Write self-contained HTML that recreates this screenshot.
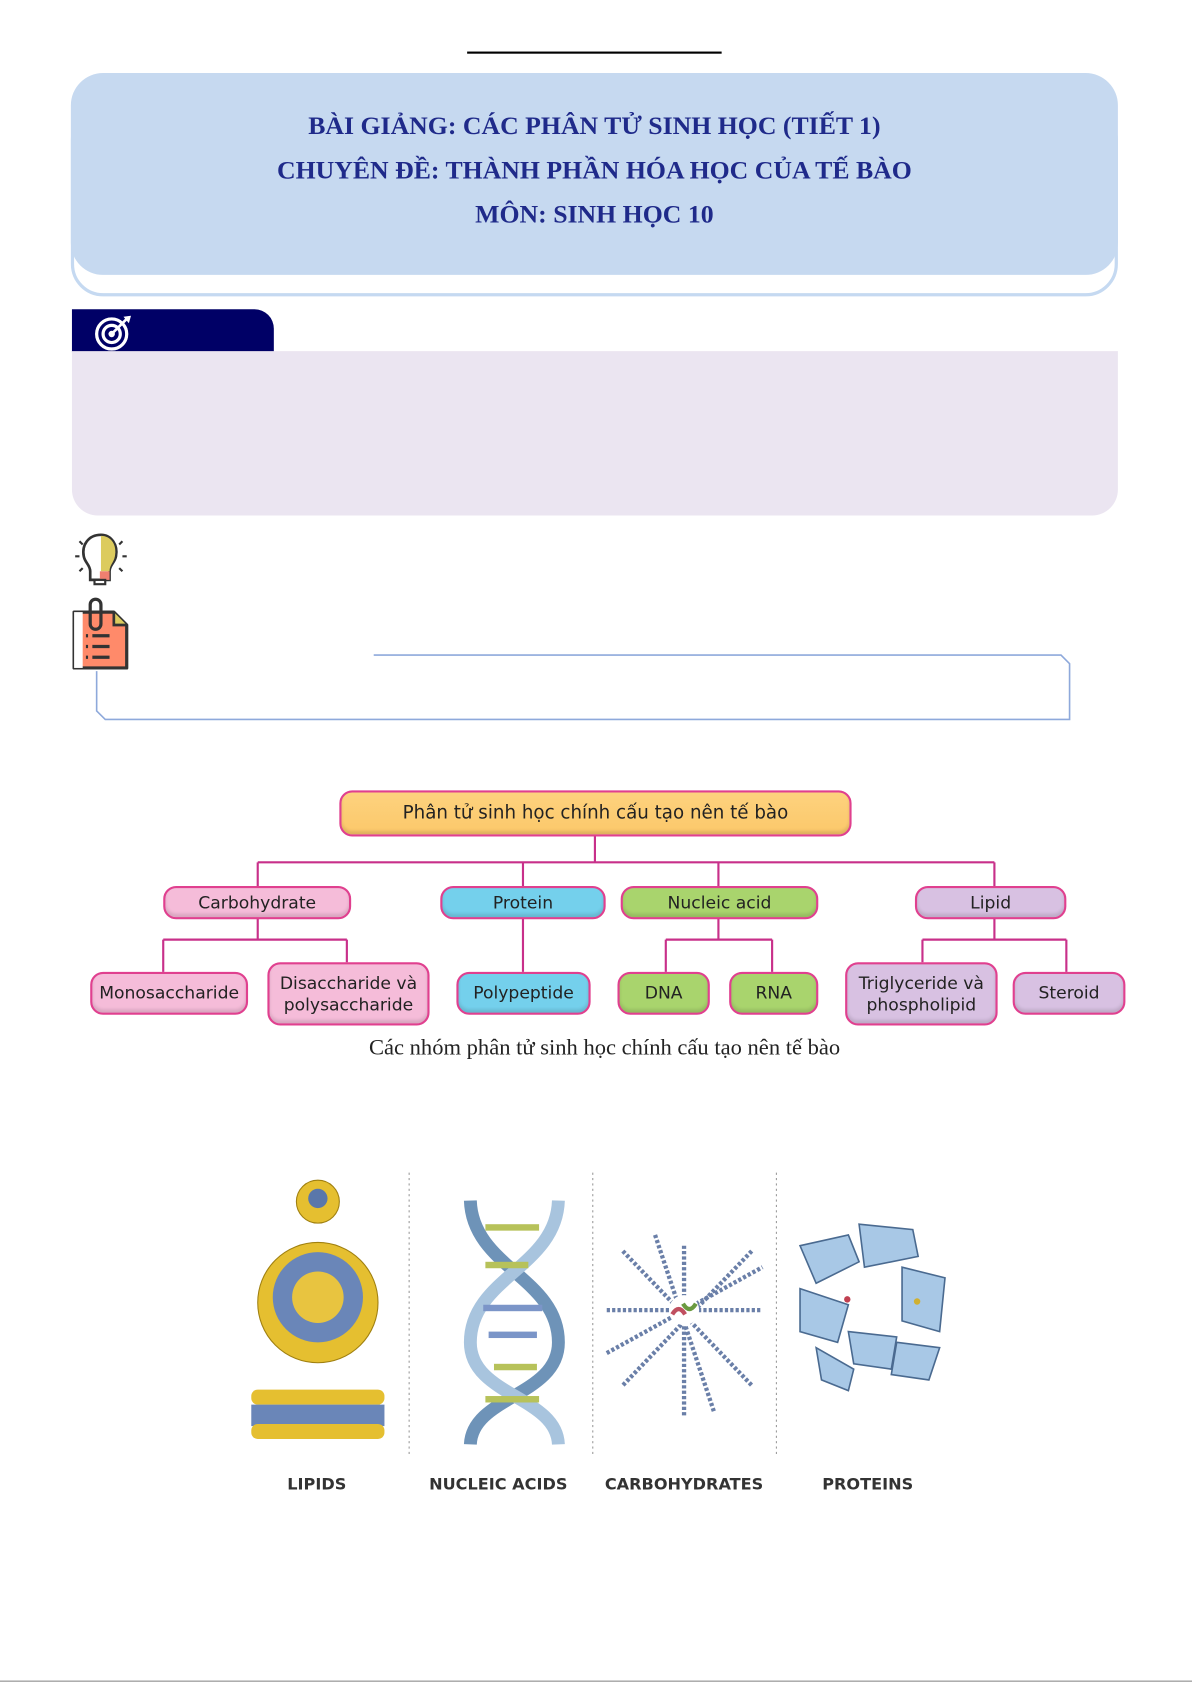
<!DOCTYPE html>
<html><head><meta charset="utf-8">
<style>
*{margin:0;padding:0;box-sizing:border-box}
body{width:1192px;height:1685px;background:#fff;position:relative;overflow:hidden;font-family:"Liberation Serif",serif}
#w{position:absolute;left:0;top:0;width:1110px;height:1569px;transform:scale(1.07387);transform-origin:0 0}
.abs{position:absolute}
.title{font-family:"Liberation Serif",serif;font-weight:bold;color:#1f2a8a;font-size:24px;text-align:center;width:100%;position:absolute}
.node{position:absolute;border:2px solid #e0408f;border-radius:12px;font-family:"DejaVu Sans","Liberation Sans",sans-serif;font-size:16px;color:#222;display:flex;align-items:center;justify-content:center;text-align:center;line-height:1.2;box-shadow:inset 0 -3px 3px rgba(0,0,0,0.12)}
.lab{position:absolute;font-family:"DejaVu Sans","Liberation Sans",sans-serif;font-weight:bold;font-size:15px;color:#333;transform:translateX(-50%)}
</style></head><body><div id="w">
<div class="abs" style="left:435px;top:48px;width:237px;height:2px;background:#000"></div>
<div class="abs" style="left:66px;top:100px;width:975px;height:176px;border:3px solid #c5d9f1;border-radius:30px"></div>
<div class="abs" style="left:66px;top:68px;width:975px;height:188px;background:#c6d9f0;border-radius:30px">
 <div class="title" style="top:37px">BÀI GIẢNG: CÁC PHÂN TỬ SINH HỌC (TIẾT 1)</div>
 <div class="title" style="top:78px">CHUYÊN ĐỀ: THÀNH PHẦN HÓA HỌC CỦA TẾ BÀO</div>
 <div class="title" style="top:119px">MÔN: SINH HỌC 10</div>
</div>
<div class="abs" style="left:67px;top:288px;width:188px;height:40px;background:#000066;border-top-right-radius:18px"></div>
<svg class="abs" style="left:88px;top:293px" width="36" height="34" viewBox="0 0 36 34"><circle cx="16" cy="18" r="14" fill="none" stroke="#fff" stroke-width="3"/><circle cx="16" cy="18" r="8" fill="none" stroke="#fff" stroke-width="3"/><circle cx="16" cy="18" r="3" fill="#fff"/><line x1="16" y1="18" x2="30" y2="4" stroke="#fff" stroke-width="2.5"/><path d="M27 2 L34 1 L32 8 Z" fill="#fff"/></svg>
<div class="abs" style="left:67px;top:327px;width:974px;height:153px;background:#ebe5f1;border-radius:0 0 24px 24px"></div>
<svg class="abs" style="left:66px;top:494px" width="56" height="56" viewBox="0 0 56 56"><path d="M28 4 C16 4 10 14 12 24 C13 30 18 32 18 38 L18 46 L36 46 L36 38 C36 32 41 30 42 24 C44 14 38 4 28 4Z" fill="#fff" stroke="#333" stroke-width="2.5"/><path d="M28 5 C38 5 43 14 41 24 C40 30 36 32 36 38 L28 38Z" fill="#dccb5e"/><rect x="27" y="38" width="9" height="8" fill="#f08070"/><rect x="22" y="46" width="10" height="4" fill="#fff" stroke="#333" stroke-width="2"/><path d="M4 24h4M48 24h4M8 10l3 3M48 10l-3 3M8 38l3-3M48 38l-3-3" stroke="#333" stroke-width="2"/></svg>
<svg class="abs" style="left:66px;top:556px" width="54" height="70" viewBox="0 0 54 70"><path d="M3 14 H40 L52 26 V66 H3 Z" fill="#ff8a6a" stroke="#333" stroke-width="3" stroke-linejoin="round"/><rect x="3" y="14" width="8" height="52" fill="#fff"/><path d="M40 14 V26 H52" fill="#dccb5e" stroke="#333" stroke-width="2.5"/><rect x="18" y="2" width="10" height="28" rx="5" fill="none" stroke="#333" stroke-width="3"/><path d="M14 36h2M20 36h16M14 46h2M20 46h16M14 56h2M20 56h16" stroke="#333" stroke-width="3"/></svg>
<svg class="abs" style="left:0;top:0" width="1110" height="1569">
<path d="M348 610 H988 L996 618 V670 H98 L90 662 V625" fill="none" stroke="#8ea9db" stroke-width="1.5"/>
<g stroke="#c8308a" stroke-width="2" fill="none">
<path d="M554 779 V803 M240 803 H926 M240 803 V825 M487 803 V825 M669 803 V825 M926 803 V825"/>
<path d="M240 855 V875 M152 875 H323 M152 875 V905 M323 875 V896"/>
<path d="M487 855 V905"/>
<path d="M669 855 V875 M620 875 H719 M620 875 V905 M719 875 V905"/>
<path d="M926 855 V875 M859 875 H993 M859 875 V896 M993 875 V905"/>
</g>
<g stroke="#999" stroke-width="1" stroke-dasharray="2,3"><line x1="381" y1="1092" x2="381" y2="1355"/><line x1="552" y1="1092" x2="552" y2="1355"/><line x1="723" y1="1092" x2="723" y2="1355"/></g>
<circle cx="296" cy="1119" r="20" fill="#e5bf30" stroke="#a08010"/><circle cx="296" cy="1116" r="9" fill="#5a77aa"/>
<circle cx="296" cy="1213" r="56" fill="#e5bf30" stroke="#a08010"/><circle cx="296" cy="1208" r="42" fill="#6a86b8"/><circle cx="296" cy="1208" r="24" fill="#e8c440"/>
<rect x="234" y="1294" width="124" height="14" rx="6" fill="#e5bf30"/><rect x="234" y="1308" width="124" height="20" fill="#6a86b8"/><rect x="234" y="1326" width="124" height="14" rx="6" fill="#e5bf30"/>
<path d="M438 1118 C440 1180 520 1190 520 1250 C520 1300 440 1300 438 1345" fill="none" stroke="#6e93b8" stroke-width="12"/>
<path d="M520 1118 C518 1180 438 1190 438 1250 C438 1300 518 1300 520 1345" fill="none" stroke="#a8c4de" stroke-width="12"/>
<g fill="#b7c25a"><rect x="452" y="1140" width="50" height="6"/><rect x="452" y="1175" width="40" height="6"/><rect x="460" y="1270" width="40" height="6"/><rect x="452" y="1300" width="50" height="6"/></g>
<g fill="#7b95c8"><rect x="450" y="1215" width="55" height="6"/><rect x="455" y="1240" width="45" height="6"/></g>
<g stroke="#6a7fa8" stroke-width="4" stroke-dasharray="3,2">
<line x1="637" y1="1160" x2="637" y2="1320"/><line x1="565" y1="1220" x2="710" y2="1220"/><line x1="580" y1="1165" x2="700" y2="1290"/><line x1="700" y1="1165" x2="580" y2="1290"/><line x1="610" y1="1150" x2="665" y2="1315"/><line x1="565" y1="1260" x2="710" y2="1180"/></g>
<circle cx="637" cy="1220" r="14" fill="#fff"/><path d="M626 1224 q6 -10 12 0" stroke="#c05060" stroke-width="4" fill="none"/><path d="M636 1214 q6 10 12 0" stroke="#6a9a40" stroke-width="4" fill="none"/>
<g fill="#a8c8e6" stroke="#4a6a90" stroke-width="1.5">
<path d="M745 1160 L790 1150 L800 1175 L760 1195 Z"/><path d="M800 1140 L850 1145 L855 1170 L805 1180 Z"/><path d="M840 1180 L880 1190 L875 1240 L840 1230 Z"/><path d="M745 1200 L790 1215 L780 1250 L745 1240 Z"/><path d="M790 1240 L835 1245 L830 1275 L795 1270 Z"/><path d="M835 1250 L875 1255 L865 1285 L830 1280 Z"/><path d="M760 1255 L795 1275 L790 1295 L765 1285 Z"/></g>
<circle cx="789" cy="1210" r="3" fill="#c04050"/><circle cx="854" cy="1212" r="3" fill="#d0b030"/>
</svg>
<div class="node" style="left:316px;top:736px;width:477px;height:43px;background:linear-gradient(#fdd27e,#fcc86a);font-size:17px">Phân tử sinh học chính cấu tạo nên tế bào</div>
<div class="node" style="left:152px;top:825px;width:175px;height:31px;background:#f5bcd9">Carbohydrate</div>
<div class="node" style="left:410px;top:825px;width:154px;height:31px;background:#74d0ec">Protein</div>
<div class="node" style="left:578px;top:825px;width:184px;height:31px;background:#a9d46d">Nucleic acid</div>
<div class="node" style="left:852px;top:825px;width:141px;height:31px;background:#d8c1e2">Lipid</div>
<div class="node" style="left:84px;top:905px;width:147px;height:40px;background:#f5bcd9">Monosaccharide</div>
<div class="node" style="left:249px;top:896px;width:151px;height:59px;background:#f5bcd9">Disaccharide và<br>polysaccharide</div>
<div class="node" style="left:425px;top:905px;width:125px;height:40px;background:#74d0ec">Polypeptide</div>
<div class="node" style="left:575px;top:905px;width:86px;height:40px;background:#a9d46d">DNA</div>
<div class="node" style="left:679px;top:905px;width:83px;height:40px;background:#a9d46d">RNA</div>
<div class="node" style="left:787px;top:896px;width:142px;height:59px;background:#d8c1e2">Triglyceride và<br>phospholipid</div>
<div class="node" style="left:943px;top:905px;width:105px;height:40px;background:#d8c1e2">Steroid</div>
<div class="abs" style="left:0;width:1126px;top:963px;text-align:center;font-size:21px;color:#222">Các nhóm phân tử sinh học chính cấu tạo nên tế bào</div>
<div class="lab" style="left:295px;top:1373px">LIPIDS</div>
<div class="lab" style="left:464px;top:1373px">NUCLEIC ACIDS</div>
<div class="lab" style="left:637px;top:1373px">CARBOHYDRATES</div>
<div class="lab" style="left:808px;top:1373px">PROTEINS</div>
<div class="abs" style="left:0;top:1565px;width:1110px;height:1px;background:#888"></div>
</div></body></html>
